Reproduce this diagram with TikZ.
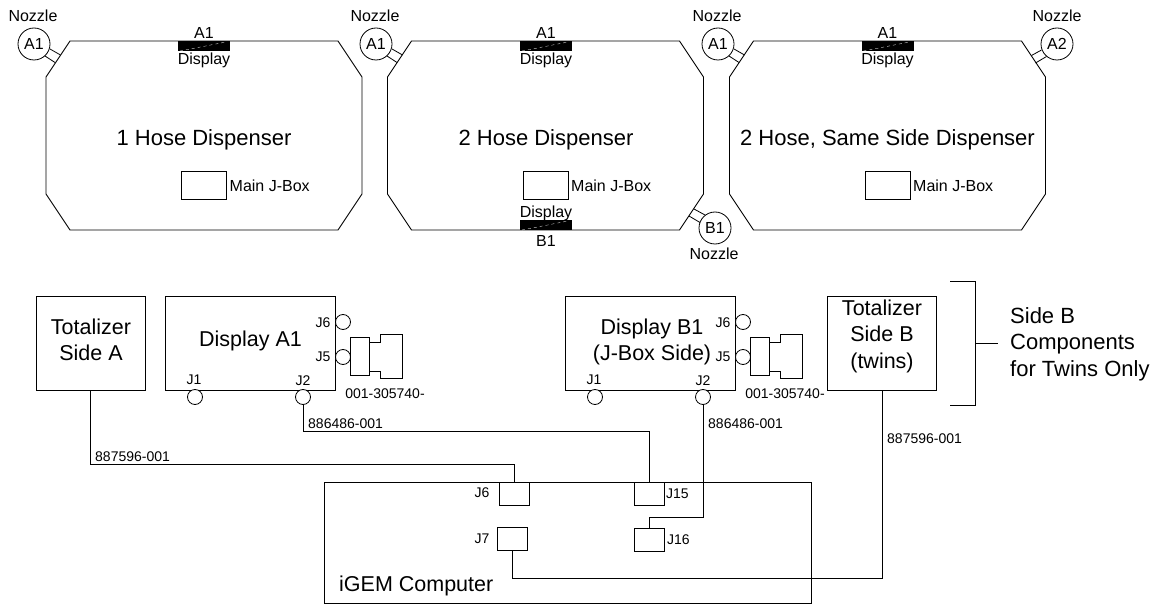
\documentclass[tikz,border=0pt]{standalone}
\usepackage{fontspec}
\setmainfont{Liberation Sans}
\usetikzlibrary{positioning}
\tikzset{
  dispenser/.style={line width=0.9pt},
  jbox/.style={rectangle,draw,line width=0.8pt,inner sep=0pt,outer sep=0pt,minimum width=45pt,minimum height=28pt},
  dispbar/.style={rectangle,fill=black,inner sep=0pt,outer sep=0pt,minimum width=52pt,minimum height=10pt},
  nozzle/.style={circle,draw,fill=white,line width=0.8pt,inner sep=0pt,outer sep=0pt,minimum size=32pt,font=\fontsize{16}{16}\selectfont},
  unitbox/.style={rectangle,draw,line width=0.9pt,inner sep=0pt,outer sep=0pt,minimum height=94pt},
  unittext/.style={inner sep=0pt,align=center,font=\fontsize{21.5}{26.5}\selectfont},
  port/.style={circle,draw,fill=white,line width=0.8pt,inner sep=0pt,outer sep=0pt,minimum size=15pt},
  header/.style={rectangle,draw,line width=0.9pt,inner sep=0pt,outer sep=0pt,minimum width=30pt,minimum height=23pt},
  lbl/.style={inner sep=0pt,font=\fontsize{16}{16}\selectfont},
  biglbl/.style={inner sep=0pt,font=\fontsize{22}{22}\selectfont},
  small/.style={inner sep=0pt,font=\fontsize{14}{14}\selectfont},
  wire/.style={line width=0.9pt},
  hose/.style={line width=0.8pt}
}
\begin{document}
\begin{tikzpicture}[x=1pt,y=-1pt]
  \useasboundingbox (0,0) rectangle (1160,604);
  % dispensers
  \foreach \cx in {204,545.5,887.5}{
    \draw[dispenser] (\cx-134,41) -- (\cx+134,41) -- (\cx+158,77) -- (\cx+158,194) -- (\cx+134,230)
      -- (\cx-134,230) -- (\cx-158,194) -- (\cx-158,77) -- cycle;
  }
  \node[biglbl] (nameA) at (204,139.5) {1 Hose Dispenser};
  \node[biglbl] (nameB) at (546,139.5) {2 Hose Dispenser};
  \node[biglbl] (nameC) at (887.5,139.5) {2 Hose, Same Side Dispenser};
  \node[jbox] (jboxA) at (204,185) {};
  \node[jbox] (jboxB) at (545.5,185) {};
  \node[jbox] (jboxC) at (887.5,185) {};
  \node[lbl,right=3pt of jboxA,yshift=-1pt] {Main J-Box};
  \node[lbl,right=3pt of jboxB,yshift=-1pt] {Main J-Box};
  \node[lbl,right=3pt of jboxC,yshift=-1pt] {Main J-Box};
  % display bars
  \foreach \nm/\px/\py in {barA/204/46,barB/546/46,barC/887.5/46,barD/546/225}{
    \node[dispbar] (\nm) at (\px,\py) {};
    \draw[white,line width=0.3pt,dashed] (\nm.south west) ++(2,0) -- ++(46,-9);
  }
  \foreach \nm in {barA,barB,barC}{
    \node[lbl,above=2pt of \nm] {A1};
    \node[lbl,below=2pt of \nm] {Display};
  }
  \node[lbl,above=-1pt of barD] {Display};
  \node[lbl,below=5pt of barD] {B1};
  % nozzles
  \node[nozzle] (nozA) at (34,44) {A1};
  \node[nozzle] (nozB) at (376,44) {A1};
  \node[nozzle] (nozC) at (718,44) {A1};
  \node[nozzle] (nozD) at (1057,44) {A2};
  \node[nozzle] (nozE) at (715,228) {B1};
  \node[lbl] at (33,16) {Nozzle};
  \node[lbl] at (375,16) {Nozzle};
  \node[lbl] at (717,16) {Nozzle};
  \node[lbl] at (1057,16) {Nozzle};
  \node[lbl] at (714,254) {Nozzle};
  \foreach \sx in {0,342,684}{
    \draw[hose] (50+\sx,49) -- (60.5+\sx,55);
    \draw[hose] (45+\sx,56) -- (55+\sx,62.5);
  }
  \draw[hose] (1041.5,50) -- (1031.5,55.5);
  \draw[hose] (1046.5,56.5) -- (1035.5,63);
  \draw[hose] (694,209) -- (705,215);
  \draw[hose] (689,216) -- (700,222.5);
  % lower row
  \node[unitbox,minimum width=109pt] (totA) at (90.5,343) {};
  \node[unitbox,minimum width=169.5pt] (dspA) at (250.5,343) {};
  \node[unitbox,minimum width=169.5pt] (dspB) at (650.5,343) {};
  \node[unitbox,minimum width=109pt] (totB) at (882,343) {};
  \node[unittext] at (91,340) {Totalizer\\Side A};
  \node[unittext] at (250.5,341) {Display A1};
  \node[unittext] at (652,342) {Display B1\\(J-Box Side)};
  \node[unittext] at (882,336) {Totalizer\\Side B\\(twins)};
  \foreach \pre/\sx in {A/0,B/400}{
    \node[port] (\pre jsix) at (343+\sx,322) {};
    \node[port] (\pre jfive) at (343+\sx,357) {};
    \node[port] (\pre jone) at (195+\sx,397) {};
    \node[port] (\pre jtwo) at (303+\sx,397) {};
    \node[small] at (323+\sx,323) {J6};
    \node[small] at (323+\sx,357) {J5};
    \node[small] at (194+\sx,380) {J1};
    \node[small] at (303+\sx,381) {J2};
    \draw[hose] (350+\sx,337) rectangle (369+\sx,375);
    \draw[hose] (369+\sx,342) -- (380+\sx,342) -- (380+\sx,334.5) -- (402.5+\sx,334.5) -- (402.5+\sx,378)
      -- (380+\sx,378) -- (380+\sx,371) -- (369+\sx,371);
    \node[small] at (385+\sx,393.5) {001-305740-};
  }
  % computer
  \node[rectangle,draw,line width=0.9pt,inner sep=0pt,minimum width=486.5pt,minimum height=121pt] (igem) at (568,542.5) {};
  \node[inner sep=0pt,anchor=west,font=\fontsize{21.5}{22}\selectfont] at (339,585.5) {iGEM Computer};
  \node[header] (cjsix) at (514,493.5) {};
  \node[header] (cjseven) at (512,538.5) {};
  \node[header] (cjfifteen) at (649,493.5) {};
  \node[header] (cjsixteen) at (649,539.5) {};
  \node[small] at (482,493) {J6};
  \node[small] at (482,539) {J7};
  \node[small,anchor=west] at (666,494) {J15};
  \node[small,anchor=west] at (667,540) {J16};
  % wires
  \coordinate (wireA) at (90,464);
  \coordinate (wireB) at (303,431.5);
  \coordinate (wireC) at (703,517);
  \coordinate (wireD) at (882,578);
  \draw[wire] (totA.south -| wireA) -- (wireA) -| (cjsix.north);
  \draw[wire] (Ajtwo.south) -- (wireB) -| (cjfifteen.north);
  \draw[wire] (Bjtwo.south) -- (wireC) -| (cjsixteen.north);
  \draw[wire] (totB.south) -- (wireD) -| (cjseven.south);
  \node[small,anchor=west] at (95,457) {887596-001};
  \node[small,anchor=west] at (308,424) {886486-001};
  \node[small,anchor=west] at (708,424) {886486-001};
  \node[small,anchor=west] at (887,439) {887596-001};
  % bracket
  \coordinate (brTop) at (950,281);
  \coordinate (brBot) at (950,405);
  \coordinate (brMid) at (975,343);
  \coordinate (brEnd) at (998,343);
  \draw[wire] (brTop) -- (975,281) -- (975,405) -- (brBot);
  \draw[wire] (brMid) -- (brEnd);
  \node[inner sep=0pt,anchor=west,align=left,font=\fontsize{22}{26.5}\selectfont] (twinsNote) at (1010,344) {Side B\\Components\\for Twins Only};
\end{tikzpicture}
\end{document}
